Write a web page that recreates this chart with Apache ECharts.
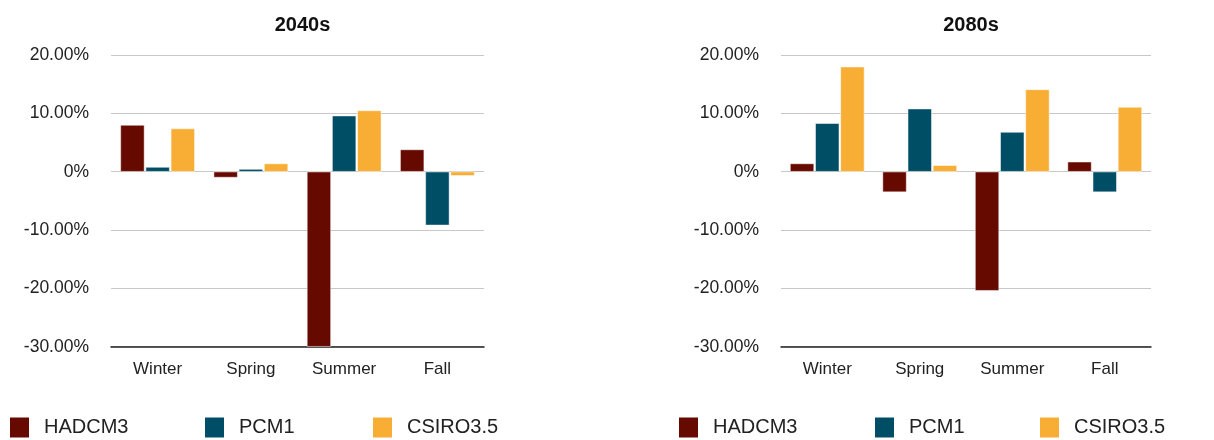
<!DOCTYPE html>
<html>
<head>
<meta charset="utf-8">
<script src="https://cdn.jsdelivr.net/npm/echarts@6/dist/echarts.min.js"></script>
<style>
html,body{margin:0;padding:0;background:#fff;}
#chart{width:1214px;height:440px;}
</style>
</head>
<body>
<div id="chart"></div>
<script>
const categories = ['Winter', 'Spring', 'Summer', 'Fall'];
const seriesNames = ['HADCM3', 'PCM1', 'CSIRO3.5'];
const panelTitles = ['2040s', '2080s'];
const hadcm3_2040 = [8.0, -1.0, -30.0, 3.8];
const pcm1_2040 = [0.8, 0.45, 9.6, -9.2];
const csiro_2040 = [7.4, 1.4, 10.5, -0.7];
const hadcm3_2080 = [1.4, -3.5, -20.4, 1.7];
const pcm1_2080 = [8.3, 10.8, 6.8, -3.5];
const csiro_2080 = [18.0, 1.1, 14.1, 11.1];
const yTicks = [-30, -20, -10, 0, 10, 20];

const colors = ['#660a00', '#004e66', '#f8ae34'];
const FONT = '"Liberation Sans", Arial, Helvetica, sans-serif';

const panels = [
  {left: 111, width: 373, data: [hadcm3_2040, pcm1_2040, csiro_2040], legendX: [8, 203, 371]},
  {left: 781, width: 370, data: [hadcm3_2080, pcm1_2080, csiro_2080], legendX: [677, 873, 1038]}
];

const option = {
  animation: false,
  color: colors,
  title: panels.map((p, i) => ({
    text: panelTitles[i],
    left: p.left + p.width / 2,
    textAlign: 'center',
    top: 10,
    textStyle: {fontFamily: FONT, fontSize: 20, fontWeight: 'bold', color: '#111'}
  })),
  grid: panels.map(p => ({left: p.left, width: p.width, top: 55, height: 291.7, containLabel: false})),
  xAxis: panels.map((p, i) => ({
    type: 'category',
    gridIndex: i,
    data: categories,
    axisTick: {show: false},
    axisLine: {onZero: false, lineStyle: {color: '#222', width: 1.5}},
    axisLabel: {fontFamily: FONT, fontSize: 17, color: '#222', margin: 14},
    splitLine: {show: false}
  })),
  yAxis: panels.map((p, i) => ({
    type: 'value',
    gridIndex: i,
    min: yTicks[0],
    max: yTicks[yTicks.length - 1],
    interval: 10,
    axisLine: {show: false},
    axisTick: {show: false},
    axisLabel: {
      fontFamily: FONT, fontSize: 17.5, color: '#222', margin: 22,
      padding: [10, 0, 0, 0],
      formatter: v => v === 0 ? '0%' : v.toFixed(2) + '%'
    },
    splitLine: {lineStyle: {color: '#c8c8c8', width: 1.2}}
  })),
  legend: [],
  series: []
};

panels.forEach((p, pi) => {
  seriesNames.forEach((name, si) => {
    option.series.push({
      name: name,
      type: 'bar',
      xAxisIndex: pi,
      yAxisIndex: pi,
      data: p.data[si],
      barWidth: 24,
      barGap: '5%',
      itemStyle: {color: colors[si], borderColor: '#fff', borderWidth: 0.5}
    });
    option.legend.push({
      data: [name],
      left: p.legendX[si],
      top: 415.5,
      padding: 0,
      itemWidth: 21,
      itemHeight: 22,
      icon: 'rect',
      selectedMode: false,
      textStyle: {fontFamily: FONT, fontSize: 20, color: '#222', padding: [0, 0, 0, 9]}
    });
  });
});

const chart = echarts.init(document.getElementById('chart'), null, {renderer: 'canvas'});
chart.setOption(option);
</script>
</body>
</html>
